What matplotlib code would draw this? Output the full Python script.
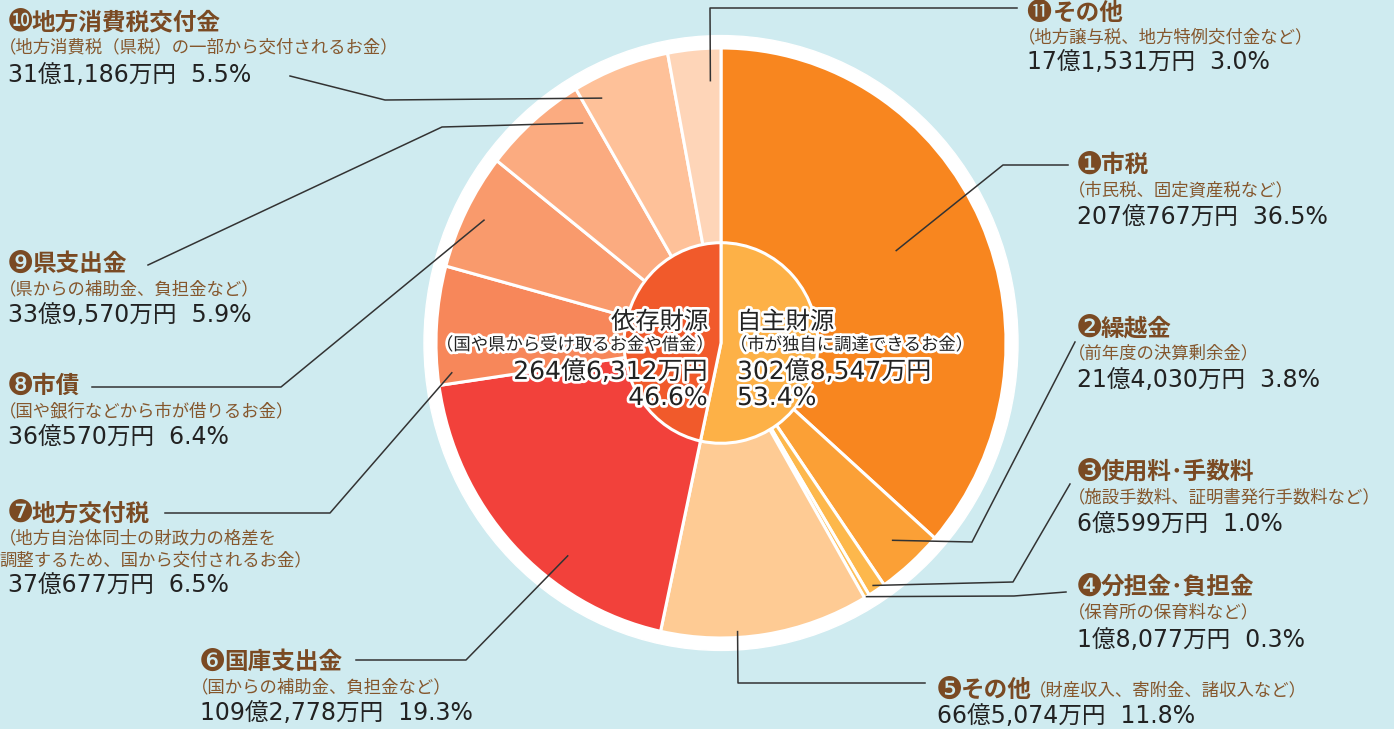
import numpy as np
import matplotlib
matplotlib.use("Agg")
import matplotlib.pyplot as plt
import matplotlib.patheffects as pe
from matplotlib.patches import Circle

plt.rcParams['font.family'] = ['Noto Sans CJK JP', 'DejaVu Sans']

# ---- data ----
outer_names = ['市税', '繰越金', '使用料･手数料', '分担金･負担金', 'その他', '国庫支出金',
               '地方交付税', '市債', '県支出金', '地方消費税交付金', 'その他']
outer_marks = ['❶', '❷', '❸', '❹', '❺', '❻', '❼', '❽', '❾', '❿', '⓫']
outer_notes = ['（市民税、固定資産税など）', '（前年度の決算剰余金）',
               '（施設手数料、証明書発行手数料など）', '（保育所の保育料など）',
               '（財産収入、寄附金、諸収入など）', '（国からの補助金、負担金など）',
               '（地方自治体同士の財政力の格差を\n調整するため、国から交付されるお金）',
               '（国や銀行などから市が借りるお金）', '（県からの補助金、負担金など）',
               '（地方消費税（県税）の一部から交付されるお金）',
               '（地方譲与税、地方特例交付金など）']
outer_amounts = ['207億767万円', '21億4,030万円', '6億599万円', '1億8,077万円',
                 '66億5,074万円', '109億2,778万円', '37億677万円', '36億570万円',
                 '33億9,570万円', '31億1,186万円', '17億1,531万円']
outer_pct = [36.5, 3.8, 1.0, 0.3, 11.8, 19.3, 6.5, 6.4, 5.9, 5.5, 3.0]
outer_colors = ['#f8861f', '#fba036', '#fdb84c', '#fdbf5a', '#fecb94', '#f2413b',
                '#f7875a', '#f99a6c', '#fbab80', '#fec199', '#fed5b8']

inner_names = ['自主財源', '依存財源']
inner_notes = ['（市が独自に調達できるお金）', '（国や県から受け取るお金や借金）']
inner_amounts = ['302億8,547万円', '264億6,312万円']
inner_pct = [53.4, 46.6]
inner_colors = ['#fdb147', '#f15a2b']

W, H = 1394, 729
CX, CY = 721, 343
RX, RY = 285, 295

fig = plt.figure(figsize=(W / 100, H / 100), dpi=100)
fig.patch.set_facecolor('#cfebf0')

# pie axes (slightly taller than wide, like the reference)
pax = fig.add_axes([(CX - RX) / W, (H - CY - RY) / H, 2 * RX / W, 2 * RY / H])
pax.add_patch(Circle((0, 0), 297 / RX, color='white', zorder=0, clip_on=False))
pax.pie(outer_pct, colors=outer_colors, startangle=90, counterclock=False,
        radius=1, wedgeprops=dict(edgecolor='white', linewidth=2.2))
pax.pie(inner_pct, colors=inner_colors, startangle=90, counterclock=False,
        radius=0.34, wedgeprops=dict(edgecolor='white', linewidth=2.2))
pax.set_aspect('auto')
pax.set_xlim(-1, 1)
pax.set_ylim(-1, 1)
pax.axis('off')

ax = fig.add_axes([0, 0, 1, 1])
ax.set_facecolor('none')
ax.set_xlim(0, W)
ax.set_ylim(0, H)
ax.axis('off')

def Y(y):
    return H - y

# label blocks: (x, title y, note y, amount y); leaders: anchor (angle, radius frac) + elbow points
label_pos = [
    (1077, 165, 190, 218), (1077, 328, 353, 380), (1077, 472, 497, 525),
    (1077, 587, 612, 640), (937, 690, 690, 716), (200, 662, 687, 713),
    (8, 513, 549, 586), (8, 386, 411, 438), (8, 264, 289, 315),
    (8, 22, 47, 75), (1027, 13, 37, 62),
]
leaders = [
    ((63, 0.69), [(1003, 165), (1068, 165)]),
    ((138, 0.9), [(972, 542), (1075, 342)]),
    ((147, 0.98), [(1013, 582), (1070, 484)]),
    ((149.3, 1.0), [(1014, 596), (1066, 592)]),
    ((176.6, 0.98), [(738, 683), (925, 683)]),
    ((216.7, 0.9), [(466, 660), (356, 660)]),
    ((263.9, 0.95), [(330, 513), (165, 513)]),
    ((296.6, 0.93), [(281, 387), (92, 387)]),
    ((326.9, 0.89), [(442, 127), (148, 265)]),
    ((333.2, 0.93), [(385, 100), (290, 76)]),
    ((357.6, 0.89), [(710, 8), (1017, 8)]),
]

brown = '#7a4a23'
dark = '#222222'
num_font = ['DejaVu Sans', 'Noto Sans CJK JP']
for i in range(len(outer_pct)):
    x, ty, ny, ay = label_pos[i]
    ax.text(x - 1, Y(ty), outer_marks[i], fontsize=18 if i == 10 else 22,
            color=brown, va='center', ha='left', family=num_font)
    ax.text(x + (26 if i == 10 else 24), Y(ty), outer_names[i], fontsize=17,
            fontweight='bold', color=brown, va='center', ha='left')
    nx = x + 92 if i == 4 else x - 9
    ax.text(nx, Y(ny), outer_notes[i], fontsize=12.5, color='#85572d',
            va='center', ha='left', linespacing=1.3)
    ax.text(x, Y(ay), f'{outer_amounts[i]}  {outer_pct[i]:.1f}%', fontsize=17,
            color=dark, va='center', ha='left', family=num_font)
    (ang, fr), pts = leaders[i]
    a = np.deg2rad(ang)
    px = [CX + fr * RX * np.sin(a)] + [p[0] for p in pts]
    py = [CY - fr * RY * np.cos(a)] + [p[1] for p in pts]
    ax.plot(px, [Y(v) for v in py], color='#333333', lw=1.1, zorder=5)

stroke = [pe.withStroke(linewidth=4, foreground='white')]
for i, (x, ha) in enumerate([(737, 'left'), (708, 'right')]):
    ax.text(x, Y(322), inner_names[i], fontsize=17.5, color=dark, ha=ha,
            va='center', path_effects=stroke, zorder=6)
    ax.text(x + (6 if ha == 'right' else -7), Y(345), inner_notes[i], fontsize=12.5,
            color=dark, ha=ha, va='center', path_effects=stroke, zorder=6)
    ax.text(x, Y(372), inner_amounts[i], fontsize=18, color=dark, ha=ha,
            va='center', path_effects=stroke, zorder=6, family=num_font)
    ax.text(x, Y(398), f'{inner_pct[i]:.1f}%', fontsize=18, color=dark, ha=ha,
            va='center', path_effects=stroke, zorder=6, family=num_font)

fig.savefig('out.png', dpi=100, facecolor=fig.get_facecolor())
